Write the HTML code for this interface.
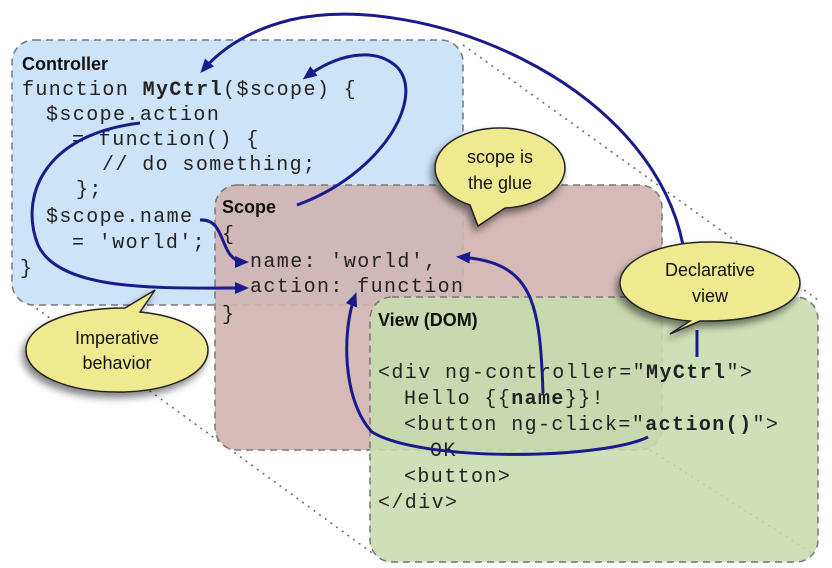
<!DOCTYPE html>
<html><head><style>
html,body{margin:0;padding:0;background:#fff;width:832px;height:568px;overflow:hidden}
svg text{font-family:"Liberation Mono",monospace;font-size:20px;letter-spacing:1.4px;fill:#222}
svg text.h{font-family:"Liberation Sans",sans-serif;font-weight:bold;font-size:18px;letter-spacing:0;fill:#111}
svg text.c{font-family:"Liberation Sans",sans-serif;font-size:18px;letter-spacing:0;fill:#111;text-anchor:middle}
</style></head><body>
<svg width="832" height="568" viewBox="0 0 832 568" xmlns="http://www.w3.org/2000/svg">
<defs>
<marker id="a" markerWidth="14" markerHeight="12" refX="10" refY="6" orient="auto" markerUnits="userSpaceOnUse" viewBox="0 0 14 12"><path d="M0,0 L14,6 L0,12 z" fill="#1a1a8c"/></marker>
<filter id="s" x="-30%" y="-30%" width="160%" height="160%"><feGaussianBlur in="SourceAlpha" stdDeviation="4"/><feOffset dx="-3" dy="5"/><feComponentTransfer><feFuncA type="linear" slope="0.5"/></feComponentTransfer><feMerge><feMergeNode/><feMergeNode in="SourceGraphic"/></feMerge></filter>
</defs>
<g stroke="#666" stroke-width="1.5" stroke-dasharray="2,5" fill="none">
<line x1="25" y1="300" x2="375" y2="555"/>
<line x1="30" y1="55" x2="815" y2="555"/>
<line x1="463" y1="45" x2="818" y2="300"/>
</g>
<rect x="12" y="40" width="451" height="265" rx="22" fill="#cde3f8" stroke="#777" stroke-width="1.5" stroke-dasharray="7,5"/>
<rect x="215" y="185" width="447" height="265" rx="22" fill="#d0b2b0" fill-opacity="0.9" stroke="#777" stroke-width="1.5" stroke-dasharray="7,5"/>
<rect x="370" y="297" width="448" height="265" rx="22" fill="#c8dcae" fill-opacity="0.88" stroke="#777" stroke-width="1.5" stroke-dasharray="7,5"/>
<text class="h" x="22" y="70">Controller</text>
<text x="22" y="95">function <tspan font-weight="bold">MyCtrl</tspan>($scope) {</text>
<text x="46" y="120">$scope.action</text>
<text x="72" y="145">= function() {</text>
<text x="102" y="170">// do something;</text>
<text x="76" y="195">};</text>
<text x="46" y="222">$scope.name</text>
<text x="72" y="248">= 'world';</text>
<text x="20" y="274">}</text>
<text class="h" x="222" y="213">Scope</text>
<text x="222" y="240">{</text>
<text x="250" y="267">name: 'world',</text>
<text x="250" y="292">action: function</text>
<text x="222" y="320">}</text>
<text class="h" x="378" y="326">View (DOM)</text>
<text x="378" y="378">&lt;div ng-controller="<tspan font-weight="bold">MyCtrl</tspan>"&gt;</text>
<text x="404" y="404">Hello {{<tspan font-weight="bold">name</tspan>}}!</text>
<text x="404" y="430">&lt;button ng-click="<tspan font-weight="bold">action()</tspan>"&gt;</text>
<text x="430" y="456">OK</text>
<text x="404" y="482">&lt;button&gt;</text>
<text x="378" y="508">&lt;/div&gt;</text>
<g stroke="#1a1a8c" stroke-width="3" fill="none">
<path d="M683,245 C650,80 420,-10 290,20 C250,30 222,48 203,70" marker-end="url(#a)"/>
<path d="M297,205 C380,175 425,100 398,68 C375,45 335,55 306,77" marker-end="url(#a)"/>
<path d="M140,123 C40,135 20,200 38,245 C60,292 160,288 245,288" marker-end="url(#a)"/>
<path d="M200,220 C228,218 218,262 245,262" marker-end="url(#a)"/>
<path d="M543,393 C540,300 532,262 460,257" marker-end="url(#a)"/>
<path d="M648,437 C600,460 420,462 372,432 C342,400 342,330 355,296" marker-end="url(#a)"/>
<path d="M697,357 L697,330"/>
</g>
<g filter="url(#s)" fill="#efe990" stroke="#222" stroke-width="1.5">
<path d="M470,205 C440,195 435,175 435,168 C435,145 465,128 500,128 C535,128 565,145 565,168 C565,190 535,207 505,208 L478,226 Z"/>
<path d="M125,308 L155,290 L140,312 C180,316 208,330 208,350 C208,375 168,392 118,392 C68,392 26,375 26,350 C26,325 68,308 125,308 Z"/>
<path d="M700,321 L670,334 L690,321 C650,318 620,302 620,283 C620,260 660,242 710,242 C760,242 800,260 800,283 C800,306 760,322 700,321 Z"/>
</g>
<text class="c" x="500" y="163">scope is</text>
<text class="c" x="500" y="189">the glue</text>
<text class="c" x="117" y="344">Imperative</text>
<text class="c" x="117" y="369">behavior</text>
<text class="c" x="710" y="276">Declarative</text>
<text class="c" x="710" y="302">view</text>
</svg>
</body></html>
